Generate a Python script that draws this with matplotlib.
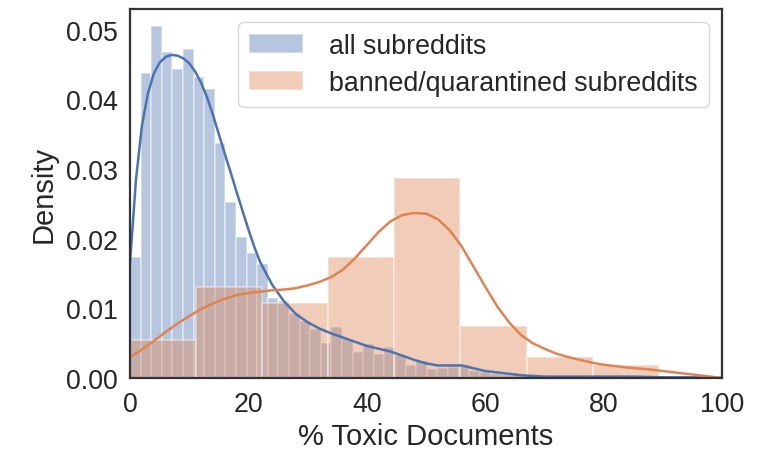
import numpy as np
import matplotlib
matplotlib.use("Agg")
import matplotlib.pyplot as plt

plt.rcParams['font.family'] = ['Liberation Sans', 'DejaVu Sans']

# --- histogram data (density per bin) ---
blue_width = 1.79
blue_heights = [0.0174, 0.0438, 0.0505, 0.0468, 0.0444, 0.0472, 0.0432, 0.0415,
                0.0338, 0.0253, 0.0203, 0.0180, 0.0164, 0.0115, 0.0110, 0.0092,
                0.0082, 0.0070, 0.0050, 0.0073, 0.0056, 0.0037, 0.0049, 0.0034,
                0.0045, 0.0033, 0.0018, 0.0025, 0.0013, 0.0014, 0.0016, 0.0019,
                0.0010, 0.0008, 0.0006, 0.0005, 0.0004, 0.0004, 0.0003, 0.0003,
                0.0002, 0.0002, 0.0002, 0.0001, 0.0001, 0.0002, 0.0001, 0.0001,
                0.0001, 0.0001, 0.0000, 0.0001]

orange_width = 11.16
orange_heights = [0.0054, 0.0131, 0.0108, 0.0174, 0.0287, 0.0075, 0.0030, 0.0019]

# --- kde curves ---
blue_kde_x = [0, 1, 2, 3, 4, 5, 6, 7, 8, 9, 10, 11, 12, 13, 14, 15, 16, 17, 18,
              19, 20, 21, 22, 24, 26, 28, 30, 32, 34, 36, 38, 40, 42, 44, 46,
              48, 50, 52, 54, 56, 58, 60, 63, 66, 70, 75, 80, 85, 90, 95, 100]
blue_kde_y = [0.0166, 0.0285, 0.0362, 0.0408, 0.0437, 0.0453, 0.0461, 0.0464,
              0.0463, 0.0459, 0.0452, 0.0440, 0.0424, 0.0403, 0.0378, 0.0350,
              0.0322, 0.0295, 0.0267, 0.0240, 0.0213, 0.0188, 0.0166, 0.0134,
              0.0110, 0.0092, 0.0080, 0.0071, 0.0064, 0.0058, 0.0052, 0.0046,
              0.0042, 0.0038, 0.0032, 0.0026, 0.0021, 0.0018, 0.0018, 0.0018,
              0.0014, 0.0010, 0.0007, 0.0004, 0.0002, 0.0002, 0.0002, 0.0002,
              0.0001, 0.0001, 0.0000]

orange_kde_x = [0, 2, 4, 6, 8, 10, 12, 14, 16, 18, 20, 22, 24, 26, 28, 30, 32,
                34, 36, 38, 40, 42, 44, 46, 48, 50, 52, 54, 56, 58, 60, 62, 64,
                66, 68, 70, 72, 74, 76, 78, 80, 84, 88, 92, 96, 100]
orange_kde_y = [0.0030, 0.0041, 0.0053, 0.0066, 0.0078, 0.0089, 0.0099, 0.0107,
                0.0114, 0.0119, 0.0122, 0.0124, 0.0126, 0.0127, 0.0129, 0.0133,
                0.0138, 0.0145, 0.0156, 0.0172, 0.0191, 0.0210, 0.0225, 0.0234,
                0.0237, 0.0236, 0.0228, 0.0212, 0.0189, 0.0160, 0.0131, 0.0103,
                0.0080, 0.0062, 0.0050, 0.0042, 0.0035, 0.0030, 0.0026, 0.0022,
                0.0019, 0.0015, 0.0012, 0.0008, 0.0004, 0.0000]

labels = ["all subreddits", "banned/quarantined subreddits"]
xticks = [0, 20, 40, 60, 80, 100]
yticks = [0.00, 0.01, 0.02, 0.03, 0.04, 0.05]

BLUE = "#4C72B0"
ORANGE = "#DD8452"

fig = plt.figure(figsize=(7.65, 4.52), dpi=100)
ax = fig.add_axes([0.170, 0.1615, 0.774, 0.8165])

blue_left = np.arange(len(blue_heights)) * blue_width
orange_left = np.arange(len(orange_heights)) * orange_width

ax.bar(blue_left, blue_heights, width=blue_width, align='edge', color=BLUE,
       alpha=0.4, edgecolor='white', linewidth=1.3, label=labels[0])
ax.bar(orange_left, orange_heights, width=orange_width, align='edge', color=ORANGE,
       alpha=0.4, edgecolor='white', linewidth=1.3, label=labels[1])
ax.plot(blue_kde_x, blue_kde_y, color=BLUE, linewidth=1.8)
ax.plot(orange_kde_x, orange_kde_y, color=ORANGE, linewidth=1.8)

ax.set_xlim(0, 100)
ax.set_ylim(0, 0.053)
ax.set_xticks(xticks)
ax.set_yticks(yticks)
ax.set_yticklabels([f"{v:.2f}" for v in yticks])
ax.tick_params(length=0, pad=9, labelsize=19.3, labelcolor='#262626')

ax.set_xlabel("% Toxic Documents", fontsize=21, color='#262626', labelpad=4)
ax.set_ylabel("Density", fontsize=21, color='#262626', labelpad=6)

for sp in ax.spines.values():
    sp.set_color('#333333')
    sp.set_linewidth(1.6)

leg = ax.legend(loc='upper right', fontsize=19.3, frameon=True, fancybox=True,
                handlelength=2.0, handletextpad=1.0, borderpad=0.4,
                labelspacing=0.4)
leg.get_frame().set_edgecolor('#cccccc')
for t in leg.get_texts():
    t.set_color('#262626')

fig.savefig("out.png", dpi=100)
